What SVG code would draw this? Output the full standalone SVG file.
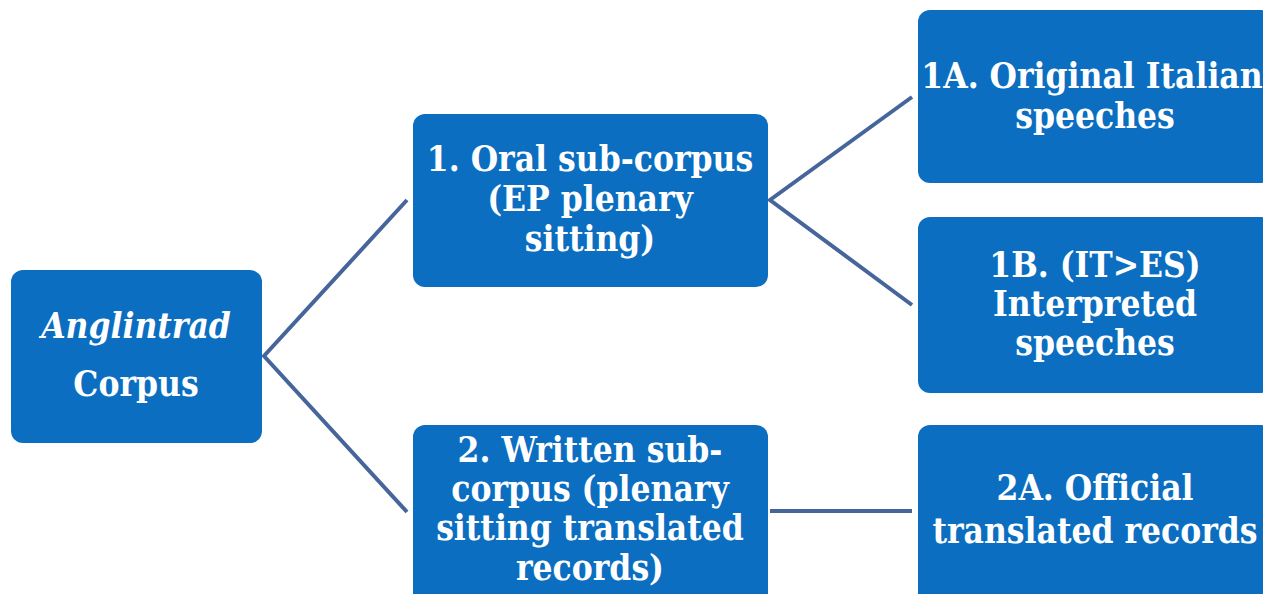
<svg xmlns="http://www.w3.org/2000/svg" width="1263" height="594" viewBox="0 0 1263 594">
<style>
.box{fill:#0b6ec0;}
.t{font-family:"DejaVu Serif Condensed","DejaVu Serif",serif;font-weight:bold;font-size:35px;fill:#ffffff;text-anchor:middle;}
.c{stroke:#46659a;stroke-width:4;fill:none;}
</style>
<rect width="1263" height="594" fill="#ffffff"/>
<g id="connectors">
<polyline class="c" points="407,200 264,356 407,512"/>
<polyline class="c" points="912,97 770,200 912,305"/>
<line class="c" x1="770" y1="511" x2="912" y2="511"/>
</g>
<g id="root">
<rect class="box" x="11" y="270" width="251" height="173" rx="12"/>
<text class="t" x="136" y="338" font-style="italic">Anglintrad</text>
<text class="t" x="136" y="396">Corpus</text>
</g>
<g id="n1">
<rect class="box" x="413" y="114" width="355" height="173" rx="12"/>
<text class="t" x="590" y="171">1. Oral sub-corpus</text>
<text class="t" x="590" y="211">(EP plenary</text>
<text class="t" x="590" y="251">sitting)</text>
</g>
<g id="n2">
<rect class="box" x="413" y="425" width="355" height="185" rx="12"/>
<text class="t" x="590" y="462">2. Written sub-</text>
<text class="t" x="590" y="501">corpus (plenary</text>
<text class="t" x="590" y="540">sitting translated</text>
<text class="t" x="590" y="580">records)</text>
</g>
<g id="n1a">
<rect class="box" x="918" y="10" width="355" height="173" rx="12"/>
<text class="t" x="1092" y="88">1A. Original Italian</text>
<text class="t" x="1095" y="128">speeches</text>
</g>
<g id="n1b">
<rect class="box" x="918" y="217" width="355" height="176" rx="12"/>
<text class="t" x="1095" y="277">1B. (IT&gt;ES)</text>
<text class="t" x="1095" y="316">Interpreted</text>
<text class="t" x="1095" y="355">speeches</text>
</g>
<g id="n2a">
<rect class="box" x="918" y="425" width="355" height="185" rx="12"/>
<text class="t" x="1095" y="500">2A. Official</text>
<text class="t" x="1095" y="543">translated records</text>
</g>
</svg>
